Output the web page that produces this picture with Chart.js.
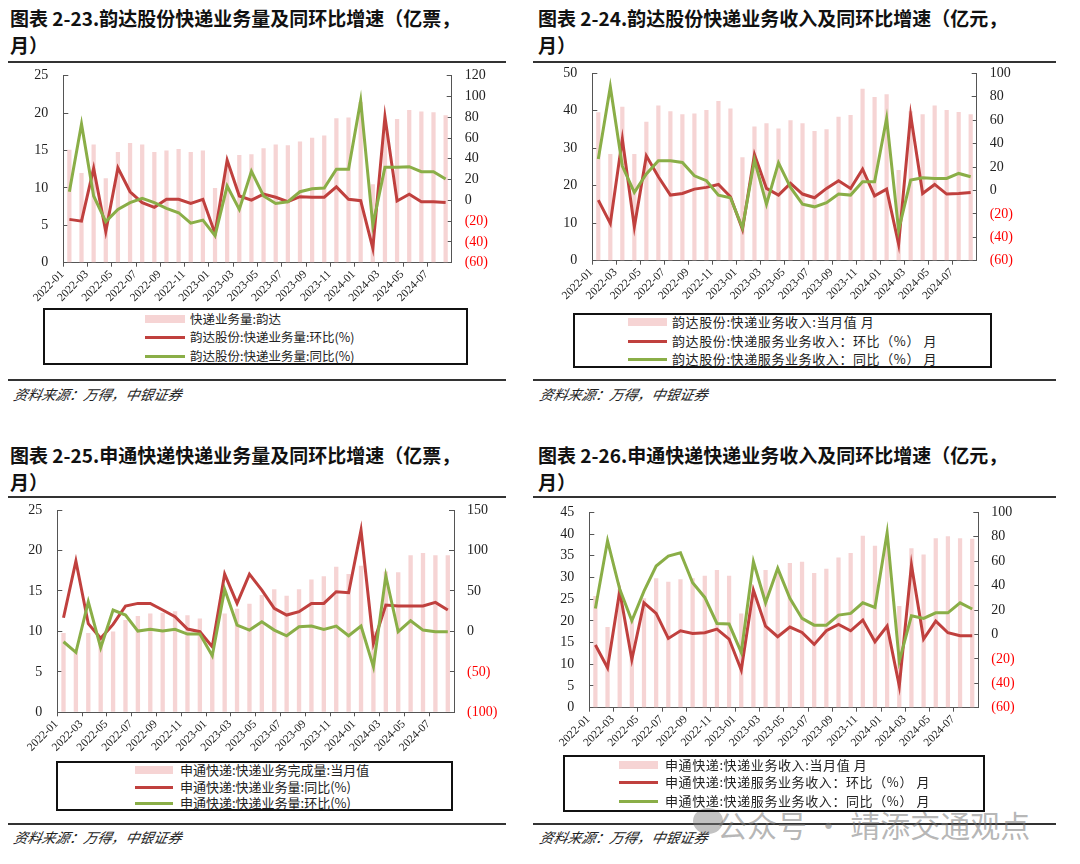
<!DOCTYPE html>
<html>
<head>
<meta charset="utf-8">
<script src="https://cdn.jsdelivr.net/npm/chart.js@4.4.1/dist/chart.umd.min.js"></script>
<style>
  body { margin: 0; background: #fff; }
  #page { position: relative; width: 1080px; height: 864px; overflow: hidden; background: #fff; }
  .title { position: absolute; font-family: "Noto Sans CJK SC", sans-serif; font-weight: 700; font-size: 19px; line-height: 27px; color: #111; white-space: nowrap; }
  .rule { position: absolute; height: 2px; background: #333; }
  .src { position: absolute; font-family: "Noto Sans CJK SC", sans-serif; font-style: italic; font-size: 14px; color: #222; transform: skewX(-12deg); white-space: nowrap; }
  .lgbox { position: absolute; border: 2px solid #111; box-sizing: border-box; }
  .lgrow { position: absolute; font-family: "Noto Sans CJK SC", sans-serif; color: #222; white-space: nowrap; }
  .sw { position: absolute; }
  canvas { position: absolute; }
  #wm { position: absolute; left: 690px; top: 802px; font-family: "Noto Sans CJK SC", sans-serif; font-size: 30px; color: rgba(120,120,120,0.55); white-space: nowrap; }
  #wmicon { position: absolute; left: 693px; top: 808px; width: 30px; height: 26px; border-radius: 50%; background: rgba(120,120,120,0.45); }
</style>
</head>
<body>
<div id="page">
  <div class="title" style="left:10px;top:4px;">图表 2-23.韵达股份快递业务量及同环比增速（亿票，<br>月）</div>
  <div class="title" style="left:538px;top:4px;">图表 2-24.韵达股份快递业务收入及同环比增速（亿元，<br>月）</div>
  <div class="title" style="left:10px;top:441px;">图表 2-25.申通快递快递业务量及同环比增速（亿票，<br>月）</div>
  <div class="title" style="left:538px;top:441px;">图表 2-26.申通快递快递业务收入及同环比增速（亿元，<br>月）</div>
  <div class="rule" style="left:8px;top:61px;width:498px;"></div>
  <div class="rule" style="left:533px;top:61px;width:523px;"></div>
  <div class="rule" style="left:8px;top:496px;width:498px;"></div>
  <div class="rule" style="left:533px;top:496px;width:523px;"></div>

  <canvas id="c1" width="530" height="240" style="left:0px;top:66px;"></canvas>
  <canvas id="c2" width="530" height="240" style="left:530px;top:66px;"></canvas>
  <canvas id="c3" width="530" height="258" style="left:0px;top:500px;"></canvas>
  <canvas id="c4" width="530" height="258" style="left:530px;top:500px;"></canvas>

  <div class="rule" style="left:8px;top:379px;width:498px;height:1.5px;"></div>
  <div class="rule" style="left:533px;top:379px;width:523px;height:1.5px;"></div>
  <div class="rule" style="left:8px;top:823px;width:498px;height:1.5px;"></div>
  <div class="rule" style="left:533px;top:823px;width:523px;height:1.5px;"></div>
  <div class="src" style="left:14px;top:384px;">资料来源：万得，中银证券</div>
  <div class="src" style="left:540px;top:384px;">资料来源：万得，中银证券</div>
  <div class="src" style="left:14px;top:827px;">资料来源：万得，中银证券</div>
  <div class="src" style="left:540px;top:827px;">资料来源：万得，中银证券</div>

  <div id="wmicon"></div>
  <div id="wm">&nbsp;&nbsp;&nbsp;&nbsp;公众号 · 靖添交通观点</div>
</div>

<script>
// months, 2022-01 .. 2024-08
var months = ['2022-01','2022-02','2022-03','2022-04','2022-05','2022-06','2022-07','2022-08','2022-09','2022-10','2022-11','2022-12',
  '2023-01','2023-02','2023-03','2023-04','2023-05','2023-06','2023-07','2023-08','2023-09','2023-10','2023-11','2023-12',
  '2024-01','2024-02','2024-03','2024-04','2024-05','2024-06','2024-07','2024-08'];

// 2-23 韵达 业务量 (亿票) + 环比 / 同比 (%)
var ydVol = [15.1,12.0,15.8,11.3,14.8,16.0,15.8,14.8,15.0,15.2,14.8,15.0,10.0,13.0,14.4,14.5,15.3,15.8,15.7,16.2,16.7,17.0,19.3,19.4,21.5,10.5,19.0,19.2,20.4,20.2,20.1,19.7];
var ydVolMom = [-18.3,-20,30.8,-30,31.4,8.3,-2.2,-6.7,1,1,-3,1,-32,38.8,4.2,0.3,6,3,-1.3,3.5,3,3,13,1,-0.3,-46,80.5,-0.6,6,-1.3,-1.3,-2];
var ydVolYoy = [8.3,73.5,4.2,-20.5,-8.7,-2.2,2,-2.2,-7.7,-11.9,-22,-19,-34,13.8,-8.7,28,4.2,-3,-1.3,8.3,11.2,11.9,30,30,96,-23.7,31.8,31.8,32.4,27.6,27.6,20.5];

// 2-24 韵达 业务收入 (亿元)
var ydRev = [39.6,28.5,41.1,28.5,37.1,41.4,39.9,39.1,39.3,40.2,42.6,40.6,27.6,35.8,36.7,35.3,37.5,36.7,34.6,35.1,38.4,38.9,45.9,43.7,44.4,24.2,39.9,39.1,41.4,40.2,39.7,39.1];
var ydRevMom = [-8.3,-28.2,43.8,-31,29.6,11.7,-4,-2.6,1.1,2.6,5.1,-5.4,-33.3,30.7,1.7,-4,6,-3.1,-6.3,1.7,8.3,1.7,18.2,-4.6,1.1,-46,64.3,-2.6,5.1,-3.1,-2.6,-1.7];
var ydRevYoy = [26.8,88.5,20.8,-1.7,14,25.3,25.3,23.9,12.5,8.3,-4,-6.3,-31.9,25.9,-11.7,23.6,2.6,-11.7,-14,-10.5,-3.1,-4,7.4,7.4,61.5,-33.9,8.8,10.8,10.2,10.2,14.5,11.7];

// 2-25 申通 业务量 (亿票)
var stVol = [9.8,7.5,9.8,9.0,10.0,11.4,11.9,12.2,12.3,12.5,12.0,11.6,7.2,12.2,12.8,13.4,14.5,15.2,14.4,15.2,16.4,16.8,18.0,17.1,18.1,10.0,17.4,17.3,19.4,19.7,19.4,19.4];
var stVolYoy = [16.9,86.9,9.5,-8.6,8.6,31.3,34.6,34.6,26.4,18.1,2.9,-0.4,-18.9,70.8,34.6,70.8,51,28.4,20.2,24.3,34.6,34.6,49,47.8,125,-14.8,32.5,31.3,31.3,31.3,35.8,26.4];
var stVolMom = [-12.8,-25.9,36.7,-20.2,26.4,20.2,0.4,2.5,0.4,2.5,-3.3,-3.3,-30,51.9,7.8,1.6,11.9,1.6,-5.4,5.8,6.6,2.5,6.6,-5.4,6.6,-43.7,68.4,-0.4,13.2,1.6,-0.4,-0.4];

// 2-26 申通 业务收入 (亿元)
var stRev = [25.7,18.6,27.3,20,25.2,29.8,29.0,29.6,29.8,30.4,31.7,30.4,21.7,26.5,31.7,31.3,33.3,33.6,31.0,32.0,34.6,35.6,39.6,37.3,38.0,23.4,36.7,35.3,39.0,39.5,39.0,38.9];
var stRevMom = [-8.7,-27.3,35.5,-20.5,25.9,17.2,-3.3,3,0.8,1.4,4.4,-3.8,-29.2,36.3,6.8,-1.9,6,1.6,-8.2,3,8.2,3,11.7,-6,6.8,-42.3,56.8,-3.8,10.9,1.4,-1.1,-1.1];
var stRevYoy = [21.3,76.7,37.1,11.2,35.5,56,64.2,66.9,42.3,30.3,9,8.5,-14.7,59.5,25.9,54.1,29.5,13.1,7.6,7.6,15.8,17.2,25.9,22.1,83.3,-21.8,15.3,13.1,17.7,17.7,25.9,20.8];

var PINK = 'rgb(246,212,212)';
var RED = 'rgb(192,64,62)';
var GREEN = 'rgb(138,174,71)';
var AXIS = '#555';

// one panel = bars on left axis + two lines on right axis
function makePanel(id, p) {
  var ctx = document.getElementById(id);
  var chart = new Chart(ctx, {
    type: 'bar',
    data: {
      labels: months,
      datasets: [
        { type: 'bar', label: p.labels[0], data: p.bars, backgroundColor: PINK, yAxisID: 'y', order: 3,
          categoryPercentage: 0.7, barPercentage: 0.5 },
        { type: 'line', label: p.labels[1], data: p.red, borderColor: RED, backgroundColor: RED, borderWidth: 3,
          pointRadius: 0, tension: 0, yAxisID: 'y1', order: 2 },
        { type: 'line', label: p.labels[2], data: p.green, borderColor: GREEN, backgroundColor: GREEN, borderWidth: 3,
          pointRadius: 0, tension: 0, yAxisID: 'y1', order: 1 }
      ]
    },
    options: {
      responsive: false,
      animation: false,
      layout: { padding: { top: p.padTop, left: 0, right: 0, bottom: 0 } },
      plugins: { legend: { display: false }, tooltip: { enabled: false } },
      scales: {
        x: {
          grid: { offset: true, drawOnChartArea: false, drawTicks: true, tickLength: 4,
            color: function (c) { return c.index % 2 === 0 ? AXIS : 'rgba(0,0,0,0)'; } },
          border: { display: true, color: AXIS, width: 1 },
          ticks: { autoSkip: false, minRotation: 45, maxRotation: 45, labelOffset: -7, padding: 1,
            color: '#222', font: { family: 'Liberation Serif', size: 11.5 },
            callback: function (v, i) { return i % 2 === 0 ? months[i] : ''; } },
          afterFit: function (s) { s.height = p.xH; s.paddingLeft = 0; s.paddingRight = 0; }
        },
        y: {
          position: 'left', min: p.yMin, max: p.yMax,
          grid: { drawOnChartArea: false, drawTicks: true, tickLength: -5, color: AXIS },
          border: { display: true, color: AXIS, width: 1 },
          ticks: { stepSize: p.yStep, autoSkip: false, padding: 20, color: '#222', font: { family: 'Liberation Serif', size: 14 } },
          // fixed axis width, and drop the label padding so the plot top sits where we want
          afterFit: function (s) { s.width = p.leftW; s.paddingTop = 0; s.paddingBottom = 0; }
        },
        y1: {
          position: 'right', min: p.rMin, max: p.rMax,
          grid: { drawOnChartArea: false, drawTicks: true, tickLength: -5, color: AXIS },
          border: { display: true, color: AXIS, width: 1 },
          ticks: { stepSize: p.rStep, autoSkip: false, padding: 18, font: { family: 'Liberation Serif', size: 14 },
            color: function (c) { return c.tick && c.tick.value < 0 ? '#FF0000' : '#222'; },
            callback: function (v) { return v < 0 ? '(' + (-v) + ')' : v; } },
          afterFit: function (s) { s.width = p.rightW; s.paddingTop = 0; s.paddingBottom = 0; }
        }
      }
    }
  });
  drawLegend(chart, p.lg);
  return chart;
}

// framed legend under each panel, built from the chart's datasets
function drawLegend(chart, lg) {
  var page = document.getElementById('page');
  var box = document.createElement('div');
  box.className = 'lgbox';
  box.style.left = lg.x + 'px'; box.style.top = lg.y + 'px';
  box.style.width = lg.w + 'px'; box.style.height = lg.h + 'px';
  page.appendChild(box);
  chart.data.datasets.forEach(function (ds, i) {
    var cy = lg.rows[i];
    var sw = document.createElement('div');
    sw.className = 'sw';
    sw.style.left = lg.swX + 'px';
    sw.style.width = lg.swW + 'px';
    if (ds.type === 'bar') {
      sw.style.top = (cy - 4) + 'px'; sw.style.height = '8px'; sw.style.background = ds.backgroundColor;
    } else {
      sw.style.top = (cy - 1.5) + 'px'; sw.style.height = '3px'; sw.style.background = ds.borderColor;
    }
    page.appendChild(sw);
    var t = document.createElement('div');
    t.className = 'lgrow';
    t.textContent = ds.label;
    t.style.left = lg.txX + 'px';
    t.style.top = (cy - 10) + 'px';
    t.style.fontSize = lg.fs + 'px';
    t.style.lineHeight = '20px';
    t.style.letterSpacing = (lg.ls || 0) + 'px';
    page.appendChild(t);
  });
}

makePanel('c1', {
  bars: ydVol, red: ydVolMom, green: ydVolYoy,
  labels: ['快递业务量:韵达', '韵达股份:快递业务量:环比(%)', '韵达股份:快递业务量:同比(%)'],
  yMin: 0, yMax: 25, yStep: 5, rMin: -60, rMax: 120, rStep: 20,
  padTop: 9.7, leftW: 63.3, rightW: 78.3, xH: 43.3,
  lg: { x: 43, y: 308, w: 425, h: 57, rows: [319, 337, 356], swX: 145, swW: 40, txX: 190, fs: 12.5 }
});

makePanel('c2', {
  bars: ydRev, red: ydRevMom, green: ydRevYoy,
  labels: ['韵达股份:快递业务收入:当月值 月', '韵达股份:快递服务业务收入：环比（%） 月', '韵达股份:快递服务业务收入：同比（%） 月'],
  yMin: 0, yMax: 50, yStep: 10, rMin: -60, rMax: 100, rStep: 20,
  padTop: 7.3, leftW: 62.3, rightW: 83.3, xH: 45.3,
  lg: { x: 573, y: 313, w: 419, h: 55, rows: [322, 341, 359], swX: 628, swW: 39, txX: 672, fs: 13, ls: 0.6 }
});

makePanel('c3', {
  bars: stVol, red: stVolYoy, green: stVolMom,
  labels: ['申通快递:快递业务完成量:当月值', '申通快递:快递业务量:同比(%)', '申通快递:快递业务量:环比(%)'],
  yMin: 0, yMax: 25, yStep: 5, rMin: -100, rMax: 150, rStep: 50,
  padTop: 10, leftW: 57.3, rightW: 76, xH: 45.7,
  lg: { x: 56, y: 761, w: 397, h: 50, rows: [770, 787, 803], swX: 135, swW: 38, txX: 180, fs: 13 }
});

makePanel('c4', {
  bars: stRev, red: stRevMom, green: stRevYoy,
  labels: ['申通快递:快递业务收入:当月值 月', '申通快递:快递服务业务收入：环比（%） 月', '申通快递:快递服务业务收入：同比（%） 月'],
  yMin: 0, yMax: 45, yStep: 5, rMin: -60, rMax: 100, rStep: 20,
  padTop: 12.3, leftW: 59.3, rightW: 81.7, xH: 50.3,
  lg: { x: 563, y: 755, w: 422, h: 57, rows: [765, 782, 801], swX: 619, swW: 39, txX: 665, fs: 13, ls: 0.6 }
});
</script>
</body>
</html>
